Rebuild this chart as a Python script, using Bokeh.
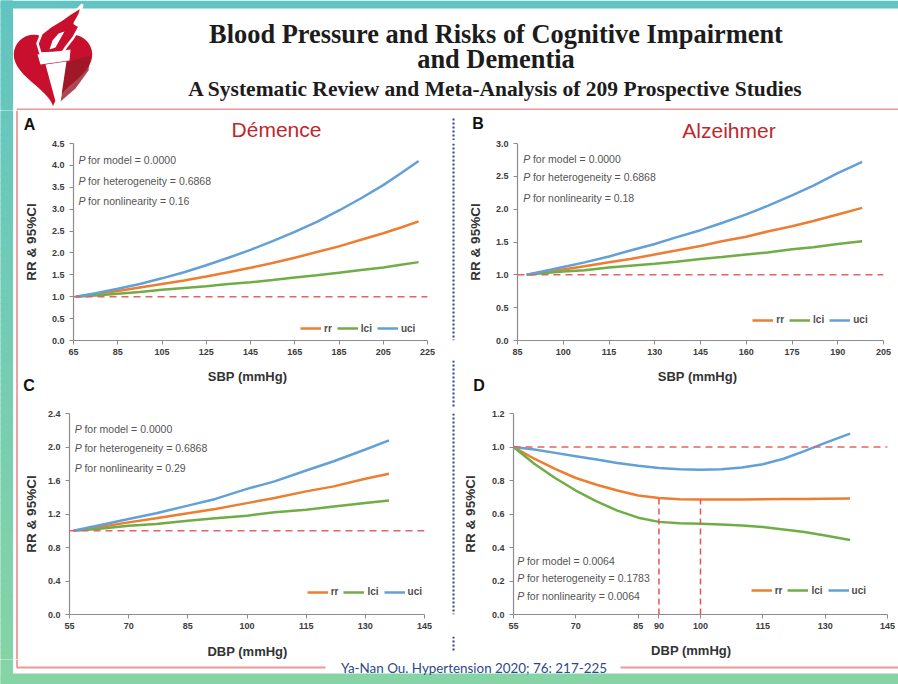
import numpy as np
from bokeh.plotting import figure
from bokeh.layouts import row, column
from bokeh.models import (Range1d, FixedTicker, PrintfTickFormatter, Label,
                          Legend, LegendItem, Span)
from bokeh.embed import file_html
from bokeh.resources import INLINE
from bokeh.core.properties import value

# ------------------------------------------------------------------ data
series_names = ["rr", "lci", "uci"]
series_colors = ["#ED7D31", "#70AD47", "#62A0D8"]
ref_level = 1.0
y_title = "RR & 95%CI"

# Panel A - Démence, SBP
a_sbp = [66, 75, 85, 95, 105, 115, 125, 135, 145, 155, 165, 175, 185, 195, 205, 213, 221]
a_rr = [1.00, 1.06, 1.13, 1.21, 1.29, 1.37, 1.46, 1.56, 1.66, 1.77, 1.89, 2.02, 2.15, 2.30, 2.45, 2.58, 2.72]
a_lci = [1.00, 1.03, 1.07, 1.11, 1.16, 1.20, 1.24, 1.29, 1.33, 1.38, 1.44, 1.49, 1.55, 1.61, 1.67, 1.73, 1.79]
a_uci = [1.00, 1.08, 1.18, 1.29, 1.42, 1.56, 1.72, 1.89, 2.07, 2.27, 2.48, 2.71, 2.97, 3.25, 3.55, 3.82, 4.10]
a_xticks = [65, 85, 105, 125, 145, 165, 185, 205, 225]
a_yticks = [0.0, 0.5, 1.0, 1.5, 2.0, 2.5, 3.0, 3.5, 4.0, 4.5]
a_stats = ["for model  = 0.0000", "for heterogeneity = 0.6868", "for nonlinearity = 0.16"]

# Panel B - Alzeihmer, SBP
b_sbp = [88, 95, 100, 107, 115, 122, 130, 137, 145, 152, 160, 167, 175, 182, 190, 198]
b_rr = [1.00, 1.05, 1.08, 1.13, 1.19, 1.24, 1.31, 1.37, 1.44, 1.51, 1.58, 1.66, 1.74, 1.82, 1.92, 2.02]
b_lci = [1.00, 1.03, 1.05, 1.07, 1.11, 1.14, 1.17, 1.20, 1.24, 1.27, 1.31, 1.34, 1.39, 1.42, 1.47, 1.51]
b_uci = [1.00, 1.07, 1.12, 1.19, 1.28, 1.37, 1.47, 1.57, 1.68, 1.79, 1.92, 2.05, 2.21, 2.36, 2.55, 2.72]
b_xticks = [85, 100, 115, 130, 145, 160, 175, 190, 205]
b_yticks = [0.0, 0.5, 1.0, 1.5, 2.0, 2.5, 3.0]
b_stats = ["for model = 0.0000", "for heterogeneity = 0.6868", "for nonlinearity = 0.18"]

# Panel C - DBP
c_dbp = [56, 62, 70, 77, 85, 92, 100, 107, 115, 122, 130, 136]
c_rr = [1.00, 1.04, 1.10, 1.15, 1.21, 1.26, 1.33, 1.39, 1.47, 1.53, 1.62, 1.68]
c_lci = [1.00, 1.02, 1.06, 1.08, 1.12, 1.15, 1.18, 1.22, 1.25, 1.29, 1.33, 1.36]
c_uci = [1.00, 1.06, 1.14, 1.21, 1.30, 1.38, 1.50, 1.59, 1.72, 1.83, 1.97, 2.08]
c_xticks = [55, 70, 85, 100, 115, 130, 145]
c_yticks = [0.0, 0.4, 0.8, 1.2, 1.6, 2.0, 2.4]
c_stats = ["for model = 0.0000", "for heterogeneity = 0.6868", "for nonlinearity = 0.29"]

# Panel D - DBP (J-shaped)
d_dbp = [55, 60, 65, 70, 75, 80, 85, 90, 95, 100, 105, 110, 115, 120, 125, 130, 136]
d_rr = [1.00, 0.93, 0.87, 0.815, 0.775, 0.74, 0.71, 0.695, 0.688, 0.686, 0.686, 0.687, 0.688, 0.689, 0.69, 0.691, 0.692]
d_lci = [1.00, 0.90, 0.815, 0.74, 0.675, 0.62, 0.578, 0.553, 0.545, 0.542, 0.538, 0.532, 0.522, 0.508, 0.492, 0.472, 0.445]
d_uci = [1.00, 0.985, 0.965, 0.945, 0.925, 0.905, 0.888, 0.875, 0.867, 0.864, 0.867, 0.878, 0.897, 0.93, 0.975, 1.025, 1.08]
d_nadir_x = [90, 100]
d_nadir_y = [0.695, 0.686]
d_xticks = [55, 70, 85, 90, 100, 115, 130, 145]
d_yticks = [0.0, 0.2, 0.4, 0.6, 0.8, 1.0, 1.2]
d_stats = ["for model = 0.0064", "for heterogeneity = 0.1783", "for nonlinearity = 0.0064"]

panel_letters = ["A", "B", "C", "D"]
panel_titles = ["Démence", "Alzeihmer"]
x_titles = ["SBP (mmHg)", "DBP (mmHg)"]
title_lines = ["Blood Pressure and Risks of Cognitive Impairment", "and Dementia",
               "A Systematic Review and Meta-Analysis of 209 Prospective Studies"]
citation = "Ya-Nan Ou. Hypertension 2020; 76: 217-225"

# ------------------------------------------------------------------ helpers
PINK = "#ea9898"
NAVY = "#2c3e8f"
SANS = "Liberation Sans"


def teal(y):
    t = min(max(y / 684.0, 0.0), 1.0)
    c0 = (98, 196, 192)
    c1 = (134, 212, 166)
    return "#%02x%02x%02x" % tuple(int(round(a + (b - a) * t)) for a, b in zip(c0, c1))


def deco(w, h):
    p = figure(width=w, height=h, x_range=Range1d(0, w), y_range=Range1d(h, 0),
               x_axis_location=None, y_axis_location=None, min_border=0,
               output_backend="svg", toolbar_location=None)
    p.grid.visible = False
    p.outline_line_color = None
    p.background_fill_color = "white"
    p.border_fill_color = "white"
    return p


def teal_band(p, x0, x1, y0, y1, oy):
    n = max(1, int((y1 - y0) / 6))
    e = np.linspace(y0, y1, n + 1)
    cols = [teal(oy + (a + b) / 2) for a, b in zip(e[:-1], e[1:])]
    p.quad(left=x0, right=x1, top=e[:-1], bottom=e[1:], fill_color=cols,
           line_color=cols, line_width=1)


def txt(p, x, y, s, size, color="#333333", style="bold", font=SANS, align="center"):
    p.text(x=[x], y=[y], text=[s], text_font=value(font), text_font_style=style,
           text_font_size=size, text_color=color, text_align=align, text_baseline="middle")


def put(p, g, px, py, text, **kw):
    (x0, x1), (y0, y1) = g["xr"], g["yr"]
    x = x0 + (px - g["L"]) / g["W"] * (x1 - x0)
    y = y1 - (py - g["T"]) / g["H"] * (y1 - y0)
    p.add_layout(Label(x=x, y=y, text=text, **kw))


def make_panel(g, x, ys, xticks, yticks, ystand, stats_x, stats_ys, stats, legend_loc):
    g["W"] = g["w"] - g["L"] - g["R"]
    g["H"] = g["h"] - g["T"] - g["B"]
    p = figure(width=g["w"], height=g["h"], x_range=Range1d(*g["xr"]), y_range=Range1d(*g["yr"]),
               min_border_left=g["L"], min_border_right=g["R"],
               min_border_top=g["T"], min_border_bottom=g["B"],
               output_backend="svg", toolbar_location=None)
    p.grid.visible = False
    p.outline_line_color = None
    p.background_fill_color = "white"
    p.border_fill_color = "white"
    p.xaxis.ticker = FixedTicker(ticks=xticks)
    p.yaxis.ticker = FixedTicker(ticks=yticks)
    p.xaxis.formatter = PrintfTickFormatter(format="%d")
    p.yaxis.formatter = PrintfTickFormatter(format="%.1f")
    for ax in p.axis:
        ax.axis_line_color = "#8c8c8c"
        ax.axis_line_width = 1.2
        ax.major_tick_line_color = "#8c8c8c"
        ax.minor_tick_line_color = None
        ax.major_tick_in = 0
        ax.major_tick_out = 4
        ax.major_label_text_font = SANS
        ax.major_label_text_font_style = "bold"
        ax.major_label_text_font_size = "9px"
        ax.major_label_text_color = "#3c3c3c"
    p.xaxis.major_label_standoff = 4
    p.yaxis.major_label_standoff = 5
    p.yaxis.axis_label = y_title
    p.yaxis.axis_label_standoff = int(ystand)
    p.yaxis.axis_label_text_font = SANS
    p.yaxis.axis_label_text_font_style = "bold"
    p.yaxis.axis_label_text_font_size = "13.5px"
    p.yaxis.axis_label_text_color = "#333333"

    p.add_layout(Span(location=ref_level, dimension="width", line_color="#e26363",
                      line_dash="7 5", line_width=1.5))
    rs = []
    for yv, c in zip(ys, series_colors):
        rs.append(p.line(x, yv, line_color=c, line_width=2.5))
    items = [LegendItem(label=n, renderers=[r]) for n, r in zip(series_names, rs)]
    p.add_layout(Legend(items=items, orientation="horizontal", location=legend_loc,
                        background_fill_alpha=0, border_line_color=None,
                        glyph_width=21, glyph_height=10, label_standoff=3, spacing=5,
                        padding=6, margin=0, label_height=10, label_width=5,
                        label_text_font=SANS, label_text_font_style="bold",
                        label_text_font_size="10px", label_text_color="#4d4d4d"))
    for py, t in zip(stats_ys, stats):
        put(p, g, stats_x, py, "P", text_font=SANS, text_font_style="italic",
            text_font_size="10.5px", text_color="#555555", text_align="left",
            text_baseline="middle")
        put(p, g, stats_x, py, t, x_offset=9.7, text_font=SANS,
            text_font_size="10.5px", text_color="#555555", text_align="left",
            text_baseline="middle")
    return p


# ------------------------------------------------------------------ panels
gA = dict(w=430, h=220, L=47, R=23, T=3, B=20, xr=(65, 225), yr=(0, 4.5))
pA = make_panel(gA, a_sbp, [a_rr, a_lci, a_uci], a_xticks, a_yticks, 10,
                52, [19, 40, 60], a_stats, (227, 6.3))

gB = dict(w=442, h=220, L=61, R=15, T=3, B=20, xr=(85, 205), yr=(0, 3.0))
pB = make_panel(gB, b_sbp, [b_rr, b_lci, b_uci], b_xticks, b_yticks, 10,
                66.7, [18.3, 36.7, 57.3], b_stats, (235.3, 14.7))

gC = dict(w=430, h=229, L=43, R=26, T=6, B=22, xr=(55, 145), yr=(0, 2.4))
pC = make_panel(gC, c_dbp, [c_rr, c_lci, c_uci], c_xticks, c_yticks, 6,
                48.3, [21.3, 40.3, 60.3], c_stats, (237.7, 17))

gD = dict(w=442, h=229, L=57, R=11, T=4, B=19, xr=(55, 145), yr=(0, 1.2))
pD = make_panel(gD, d_dbp, [d_rr, d_lci, d_uci], d_xticks, d_yticks, 11,
                60.7, [154.7, 173, 191.3], d_stats, (237.7, 18.3))
pD.segment(x0=d_nadir_x, y0=[0, 0], x1=d_nadir_x, y1=d_nadir_y, line_color="#e05555",
           line_dash="6 4", line_width=1.5)

# ------------------------------------------------------------------ header
hdr = deco(898, 110)
teal_band(hdr, 0, 12, 0, 110, 0)
hdr.quad(left=0, right=898, top=0, bottom=8, fill_color=teal(4), line_color=None)

t = np.linspace(0, 2 * np.pi, 160)
hx = 16 * np.sin(t) ** 3
hy = 13 * np.cos(t) - 5 * np.cos(2 * t) - 2 * np.cos(3 * t) - np.cos(4 * t)
hdr.patch(52.5 + hx * 2.45, 64 - hy * 2.5, fill_color="#c8102e", line_color=None)
hdr.patch([66, 90, 88, 75, 60], [62, 55, 70, 88, 101], fill_color="#961a26", line_color=None,
          fill_alpha=0.8)
hdr.patch([40, 37, 41, 50, 60, 70, 78, 82, 79, 74, 79, 73, 66, 62],
          [53, 43, 33, 26, 20, 13, 8, 4, 14, 23, 26, 37, 46, 52],
          fill_color="#c8102e", line_color="white", line_width=2.5)
hdr.patch([49, 52, 58, 64, 60, 55], [49, 40, 33, 31, 38, 47], fill_color="white", line_color=None)
hdr.patch([37, 70, 69, 40], [54, 49, 60, 64], fill_color="white", line_color=None)
hdr.patch([45, 66, 60, 55], [64, 61, 101, 101], fill_color="white", line_color=None)

hdr.text(x=[495.5, 495.5], y=[33.3, 58.3], text=title_lines[:2],
         text_font=value("Liberation Serif"), text_font_style="bold", text_font_size="26.4px",
         text_color="#1c1c1c", text_align="center", text_baseline="alphabetic")
hdr.text(x=[495], y=[88.3], text=title_lines[2:],
         text_font=value("Liberation Serif"), text_font_style="bold", text_font_size="21.5px",
         text_color="#1c1c1c", text_align="center", text_baseline="alphabetic")
hdr.line([16.5, 898], [109, 109], line_color=PINK, line_width=1.8)
hdr.line([16.5, 16.5], [109, 110], line_color=PINK, line_width=1.8)

# ------------------------------------------------------------------ strips / bands
left = deco(20, 549)
teal_band(left, 0, 12, 0, 549, 110)
left.line([16.5, 16.5], [0, 549], line_color=PINK, line_width=1.8)

DIVX = 433

band1 = deco(878, 30)
band1.line([DIVX, DIVX], [8, 30], line_color=NAVY, line_width=2, line_dash="2 2")
txt(band1, 9, 14, panel_letters[0], "16px", "#111111")
txt(band1, 256, 19, panel_titles[0], "21px", "#c0272d", style="normal")
txt(band1, 457.5, 13, panel_letters[1], "16px", "#111111")
txt(band1, 708.5, 19.5, panel_titles[1], "21px", "#c0272d", style="normal")

divA = deco(6, 220)
divA.line([3, 3], [0, 220], line_color=NAVY, line_width=2, line_dash="2 2")

band2 = deco(878, 47)
band2.line([DIVX, DIVX], [0, 47], line_color=NAVY, line_width=2, line_dash="2 2")
txt(band2, 227, 16, x_titles[0], "13px")
txt(band2, 677, 16, x_titles[0], "13px")
txt(band2, 8.5, 25, panel_letters[2], "16px", "#111111")
txt(band2, 458.5, 25, panel_letters[3], "16px", "#111111")

divC = deco(6, 229)
divC.line([3, 3], [0, 229], line_color=NAVY, line_width=2, line_dash="2 2")

band3 = deco(878, 23)
band3.line([DIVX, DIVX], [0, 14], line_color=NAVY, line_width=2, line_dash="2 2")
txt(band3, 227, 15, x_titles[1], "13px")
txt(band3, 670.7, 14, x_titles[1], "13px")

# ------------------------------------------------------------------ footer
ftr = deco(898, 25)
teal_band(ftr, 0, 12, 0, 25, 659)
ftr.quad(left=0, right=898, top=14, bottom=25, fill_color=teal(676), line_color=None)
ftr.line([16.5, 16.5, 325], [0, 8, 8], line_color=PINK, line_width=1.8)
ftr.line([620, 898], [8, 8], line_color=PINK, line_width=1.8)
ftr.text(x=[473.5], y=[8], text=[citation], text_font=value("Lato"), text_font_size="13.4px",
         text_color="#2b4a8b", text_align="center", text_baseline="middle")

mid = column(band1, row(pA, divA, pB), band2, row(pC, divC, pD), band3)
page = column(hdr, row(left, mid), ftr)

open("out.html", "w").write(file_html(page, INLINE))
